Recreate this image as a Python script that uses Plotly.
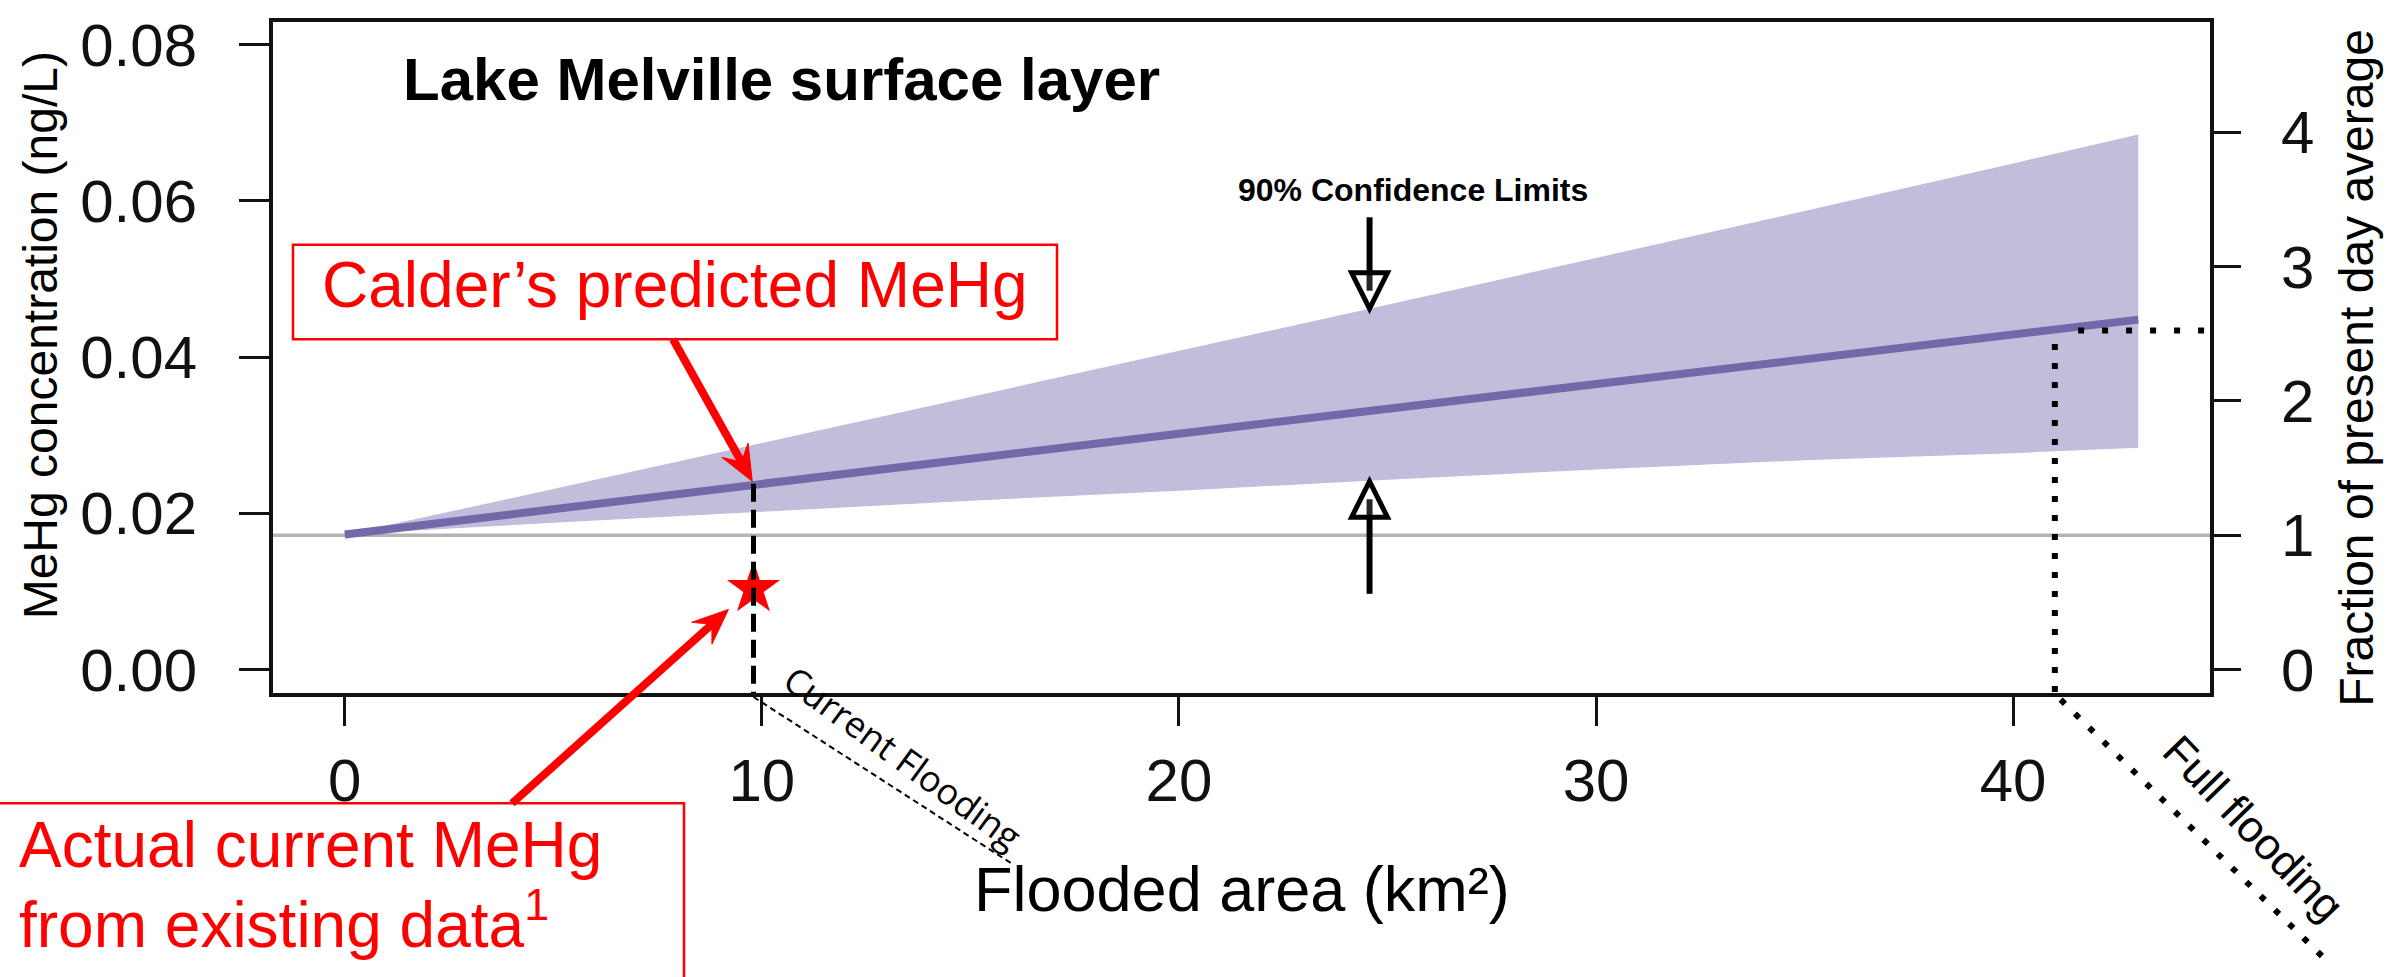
import math
import plotly.graph_objects as go

# ---------------- data ----------------
area_km2 = [0, 5, 10, 15, 20, 25, 30, 35, 40, 43]
mehg_mean = [0.0173, 0.0206, 0.0238, 0.0270, 0.0302, 0.0334, 0.0366, 0.0397, 0.0428, 0.0448]
mehg_upper = [0.0173, 0.0231, 0.0290, 0.0349, 0.0408, 0.0467, 0.0527, 0.0587, 0.0648, 0.0685]
mehg_lower = [0.0173, 0.0188, 0.0202, 0.0216, 0.0229, 0.0243, 0.0256, 0.0268, 0.0277, 0.0284]

present_day_avg = 0.0172          # ng/L -> 1 on the right axis
current_flooding_km2 = 9.8
current_predicted_mehg = 0.0238
actual_current_mehg = 0.01035
full_flooding_km2 = 41.0
full_flooding_mehg = 0.0434
cl_arrow_x = 24.57
cl_upper_tip = 0.0462
cl_lower_tip = 0.0241

x_ticks = [0, 10, 20, 30, 40]
y_ticks = [0.00, 0.02, 0.04, 0.06, 0.08]
fraction_ticks = [0, 1, 2, 3, 4]

# ---------------- layout geometry ----------------
W, H = 2407, 977
PL, PR, PT, PB = 273, 2210, 12, 693     # plot area in px
X_RANGE = [-1.72, 44.72]
Y_RANGE = [-0.0030, 0.0829]
Y2_RANGE = [v / present_day_avg for v in Y_RANGE]

FONT = "Liberation Sans, Arial, Helvetica, sans-serif"
RED = "#ff0000"
BAND = "rgb(192,190,219)"
LINE = "rgb(114,105,170)"


def px_paper(px, py):
    return (px - PL) / (PR - PL), (PB - py) / (PB - PT)


def data_paper(x, y):
    return ((x - X_RANGE[0]) / (X_RANGE[1] - X_RANGE[0]),
            (y - Y_RANGE[0]) / (Y_RANGE[1] - Y_RANGE[0]))


def data_px(x, y):
    fx, fy = data_paper(x, y)
    return PL + fx * (PR - PL), PB - fy * (PB - PT)


fig = go.Figure()

# present-day average reference line
fig.add_trace(go.Scatter(x=[X_RANGE[0], X_RANGE[1]], y=[present_day_avg, present_day_avg],
                         mode="lines", line=dict(color="#b4b4b4", width=3.5),
                         hoverinfo="skip", showlegend=False))
# confidence band
fig.add_trace(go.Scatter(x=area_km2, y=mehg_lower, mode="lines", line=dict(width=0, color=BAND),
                         hoverinfo="skip", showlegend=False))
fig.add_trace(go.Scatter(x=area_km2, y=mehg_upper, mode="lines", line=dict(width=0, color=BAND),
                         fill="tonexty", fillcolor=BAND, hoverinfo="skip", showlegend=False))
# mean prediction
fig.add_trace(go.Scatter(x=area_km2, y=mehg_mean, mode="lines", line=dict(color=LINE, width=8),
                         hoverinfo="skip", showlegend=False))
# invisible trace for right axis
fig.add_trace(go.Scatter(x=[0], y=[1], yaxis="y2", mode="markers", marker=dict(opacity=0),
                         hoverinfo="skip", showlegend=False))

shapes = []
# current flooding dashed vertical (thick) and thin dashed diagonal
shapes.append(dict(type="line", xref="x", yref="y", x0=current_flooding_km2, x1=current_flooding_km2,
                   y0=current_predicted_mehg, y1=Y_RANGE[0],
                   line=dict(color="black", width=5, dash="18px,8px"), layer="above"))
sx, sy = data_paper(current_flooding_km2, Y_RANGE[0])
ex, ey = px_paper(1013, 867)
shapes.append(dict(type="line", xref="paper", yref="paper", x0=sx, y0=sy - 0.006, x1=ex, y1=ey,
                   line=dict(color="black", width=2, dash="6px,4px")))

# full flooding dotted lines
fx0, fy0 = data_paper(full_flooding_km2, full_flooding_mehg)
fx1, fy1 = data_paper(full_flooding_km2, Y_RANGE[0])
shapes.append(dict(type="line", xref="paper", yref="paper", x0=fx0, y0=fy0 - 0.02, x1=fx1, y1=fy1,
                   line=dict(color="black", width=6, dash="6px,13px")))
hx1, _ = data_paper(X_RANGE[1], full_flooding_mehg)
shapes.append(dict(type="line", xref="paper", yref="paper", x0=fx0 + 0.012, y0=fy0, x1=hx1 - 0.003, y1=fy0,
                   line=dict(color="black", width=6, dash="6px,18px")))
gx, gy = px_paper(2322, 960)
shapes.append(dict(type="line", xref="paper", yref="paper", x0=fx1 + 0.003, y0=fy1 - 0.01, x1=gx, y1=gy,
                   line=dict(color="black", width=6, dash="6px,14px")))

# 90% confidence limit arrows (hollow heads)
head_w = 0.43
head_h = 0.0046
up_tail = 0.0579
lo_tail = 0.0097
shapes.append(dict(type="line", xref="x", yref="y", x0=cl_arrow_x, x1=cl_arrow_x,
                   y0=up_tail, y1=cl_upper_tip + head_h * 0.5, line=dict(color="black", width=6)))
shapes.append(dict(type="path", xref="x", yref="y",
                   path=f"M {cl_arrow_x - head_w},{cl_upper_tip + head_h} L {cl_arrow_x + head_w},{cl_upper_tip + head_h} "
                        f"L {cl_arrow_x},{cl_upper_tip} Z",
                   fillcolor="rgba(255,255,255,0.15)", line=dict(color="black", width=5)))
shapes.append(dict(type="line", xref="x", yref="y", x0=cl_arrow_x, x1=cl_arrow_x,
                   y0=lo_tail, y1=cl_lower_tip - head_h * 0.5, line=dict(color="black", width=6)))
shapes.append(dict(type="path", xref="x", yref="y",
                   path=f"M {cl_arrow_x - head_w},{cl_lower_tip - head_h} L {cl_arrow_x + head_w},{cl_lower_tip - head_h} "
                        f"L {cl_arrow_x},{cl_lower_tip} Z",
                   fillcolor="rgba(255,255,255,0.15)", line=dict(color="black", width=5)))

# red boxes
bx0, by0 = px_paper(293, 334)
bx1, by1 = px_paper(1057, 238)
shapes.append(dict(type="rect", xref="paper", yref="paper", x0=bx0, y0=by0, x1=bx1, y1=by1,
                   line=dict(color=RED, width=2.5), fillcolor="white"))
cx0, cy0 = px_paper(-10, 995)
cx1, cy1 = px_paper(684, 805)
shapes.append(dict(type="rect", xref="paper", yref="paper", x0=cx0, y0=cy0, x1=cx1, y1=cy1,
                   line=dict(color=RED, width=2.5), fillcolor="white"))


# red "stealth" arrows drawn as shapes (px -> paper)
def red_arrow(tail_px, tip_px, head_len=36, head_half=15, width=8):
    tx, ty = tail_px
    hx, hy = tip_px
    dx, dy = hx - tx, hy - ty
    n = math.hypot(dx, dy)
    ux, uy = dx / n, dy / n
    nx, ny = -uy, ux
    notch = (hx - 0.62 * head_len * ux, hy - 0.62 * head_len * uy)
    b1 = (hx - head_len * ux + head_half * nx, hy - head_len * uy + head_half * ny)
    b2 = (hx - head_len * ux - head_half * nx, hy - head_len * uy - head_half * ny)
    p0 = px_paper(tx, ty)
    p1 = px_paper(*notch)
    shapes.append(dict(type="line", xref="paper", yref="paper", x0=p0[0], y0=p0[1], x1=p1[0], y1=p1[1],
                       line=dict(color=RED, width=width)))
    pts = [px_paper(hx, hy), px_paper(*b1), px_paper(*notch), px_paper(*b2)]
    path = "M " + " L ".join(f"{a:.5f},{b:.5f}" for a, b in pts) + " Z"
    shapes.append(dict(type="path", xref="paper", yref="paper", path=path,
                       fillcolor=RED, line=dict(color=RED, width=1)))


red_arrow((673, 334), data_px(9.77, 0.0241))
red_arrow((512, 805), data_px(9.2, 0.0077))

annotations = []


def ann_px(text, px, py, size, color="black", angle=0, xanchor="center", yanchor="middle",
           bold=False, family=FONT):
    ax_, ay_ = px_paper(px, py)
    if bold:
        text = f"<b>{text}</b>"
    annotations.append(dict(text=text, x=ax_, y=ay_, xref="paper", yref="paper", showarrow=False,
                            xanchor=xanchor, yanchor=yanchor, textangle=angle,
                            font=dict(family=family, size=size, color=color)))


# titles / labels
ann_px("Lake Melville surface layer", 401, 70, 60, bold=True, xanchor="left")
ann_px("90% Confidence Limits", 1413, 182, 32, bold=True)
ann_px("MeHg concentration (ng/L)", 40, 330, 48, angle=-90)
ann_px("Fraction of present day average", 2357, 363, 48, angle=-90)
ann_px("Flooded area (km²)", 1242, 892, 63)
ann_px("Current Flooding", 903, 758, 36, angle=36, family="Open Sans, sans-serif")
ann_px("Full flooding", 2253, 830, 44, angle=46)
ann_px("Calder’s predicted MeHg", 675, 279, 64, color=RED)
ann_px("Actual current MeHg", 17, 847, 64, color=RED, xanchor="left")
ann_px("from existing data<sup>1</sup>", 17, 923, 64, color=RED, xanchor="left")

# actual current MeHg star
fig.add_trace(go.Scatter(x=[current_flooding_km2], y=[actual_current_mehg], mode="markers",
                         marker=dict(symbol="star", size=40, color=RED, line=dict(width=0)),
                         cliponaxis=False, hoverinfo="skip", showlegend=False))

tickfont = dict(family=FONT, size=60, color="#111111")
fig.update_layout(
    width=W, height=H,
    margin=dict(l=PL, r=W - PR, t=PT, b=H - PB, pad=0),
    paper_bgcolor="white", plot_bgcolor="white",
    showlegend=False,
    xaxis=dict(range=X_RANGE, tickvals=x_ticks, ticks="outside", ticklen=29, tickwidth=3,
               tickcolor="#111111", showline=True, linecolor="#111111", linewidth=4, mirror=True,
               showgrid=False, zeroline=False, tickfont=tickfont, ticklabelstandoff=3),
    yaxis=dict(range=Y_RANGE, tickvals=y_ticks, tickformat=".2f", ticks="outside", ticklen=30,
               tickwidth=3, tickcolor="#111111", showline=True, linecolor="#111111", linewidth=4,
               mirror=True, showgrid=False, zeroline=False, tickfont=tickfont, ticklabelstandoff=30),
    yaxis2=dict(range=Y2_RANGE, tickvals=fraction_ticks, overlaying="y", side="right",
                ticks="outside", ticklen=30, tickwidth=3, tickcolor="#111111", showline=False,
                showgrid=False, zeroline=False, tickfont=tickfont, ticklabelstandoff=28),
    shapes=shapes,
    annotations=annotations,
)

fig.write_html("out.html", config={"displayModeBar": False},
               post_script="document.body.style.margin='0';document.body.style.overflow='hidden';")
